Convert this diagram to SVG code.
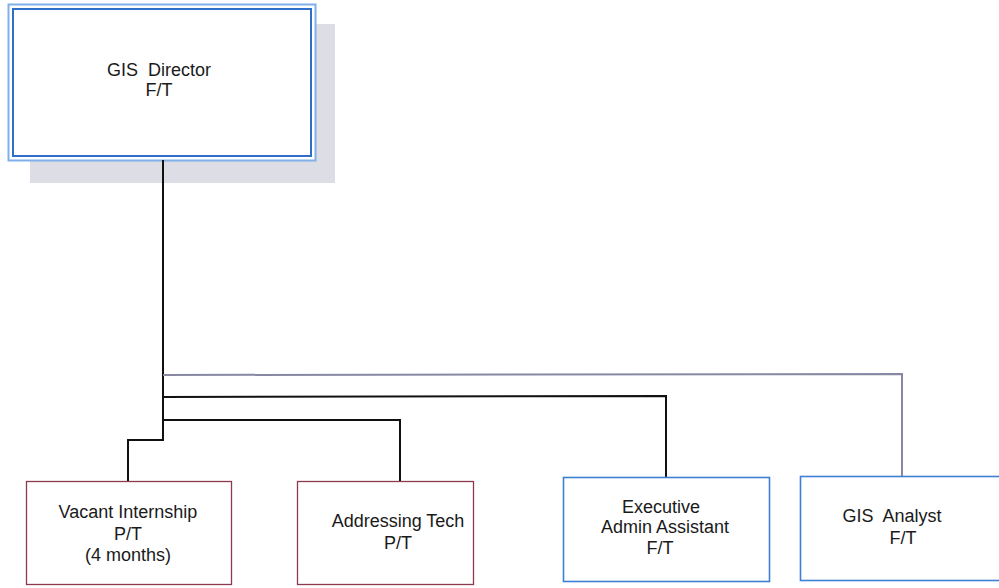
<svg xmlns="http://www.w3.org/2000/svg" width="999" height="588" viewBox="0 0 999 588">
<style>
text{font-family:"Liberation Sans",Arial,sans-serif;font-size:18px;fill:#1a1a1a;text-anchor:middle;white-space:pre}
.red{fill:#fff;stroke:#8e3a4e;stroke-width:1.3}
.blue{fill:#fff;stroke:#3d7fd6;stroke-width:1.6}
.ln{fill:none;stroke:#111;stroke-width:2}
.gl{fill:none;stroke:#8888a2;stroke-width:2}
</style>
<rect width="999" height="588" fill="#fff"/>
<g id="director">
<rect x="30" y="24" width="305" height="159" fill="#dddde6"/>
<rect x="8.5" y="4.5" width="307" height="156" fill="#fff" stroke="#7fb0ea" stroke-width="2"/>
<rect x="13" y="9" width="298" height="147" fill="#fff" stroke="#2f6fc9" stroke-width="2"/>
<text x="159" y="76" font-size="17" xml:space="preserve">GIS  Director</text>
<text x="159" y="96" font-size="17">F/T</text>
</g>
<g id="connectors">
<polyline class="ln" points="163,160 163,440 128,440 128,482"/>
<polyline class="gl" points="163,375 902,374 902,477"/>
<polyline class="ln" points="163,397 666,396 666,477"/>
<polyline class="ln" points="163,420 400,420 400,482"/>
</g>
<g id="intern">
<rect class="red" x="26.5" y="481.5" width="205" height="103"/>
<text x="128" y="518">Vacant Internship</text>
<text x="128" y="540">P/T</text>
<text x="128" y="561">(4 months)</text>
</g>
<g id="addressing">
<rect class="red" x="297.5" y="481.5" width="176" height="103"/>
<text x="398" y="527">Addressing Tech</text>
<text x="398" y="549">P/T</text>
</g>
<g id="exec">
<rect class="blue" x="563.5" y="477.5" width="206" height="104"/>
<text x="661" y="513">Executive</text>
<text x="665" y="533">Admin Assistant</text>
<text x="660" y="554">F/T</text>
</g>
<g id="analyst">
<rect class="blue" x="800.5" y="476.5" width="210" height="104"/>
<text x="892" y="522" xml:space="preserve">GIS  Analyst</text>
<text x="903" y="544">F/T</text>
</g>
</svg>
